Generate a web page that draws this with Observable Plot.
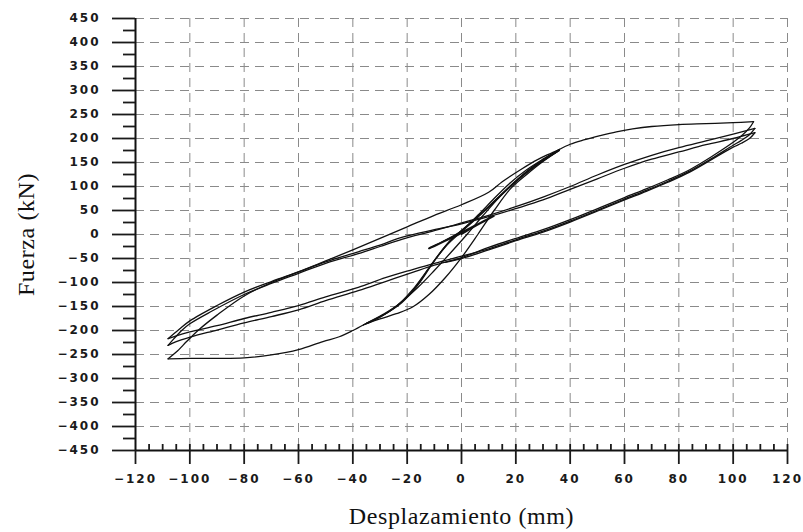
<!DOCTYPE html>
<html><head><meta charset="utf-8">
<script src="https://cdn.jsdelivr.net/npm/d3@7"></script>
<script src="https://cdn.jsdelivr.net/npm/@observablehq/plot@0.6"></script>
<style>
body{margin:0;background:#fff;}
svg [aria-label$="tick label"] text{letter-spacing:2px;}
svg g[aria-label="text"] text{letter-spacing:0.6px;}
</style></head><body><div id="chart"></div>
<script>
// Axis ticks
const xTicks = [-120,-100,-80,-60,-40,-20,0,20,40,60,80,100,120];
const yTicks = [-450,-400,-350,-300,-250,-200,-150,-100,-50,0,50,100,150,200,250,300,350,400,450];
const xGrid = [-100,-80,-60,-40,-20,0,20,40,60,80,100,120];
const yGrid = [-400,-350,-300,-250,-200,-150,-100,-50,0,50,100,150,200,250,300,350,400,450];
const xMinor = d3.range(-115, 121, 5);
const yMinor = d3.range(-425, 450, 50);

// Hysteresis branches [displacement mm, force kN]
const smallCycles = [[0,0],[6,20],[12,40],[6,22],[0,5],[-6,-12],[-12,-30],[-6,-14],[0,2],[6,20],[12,38],[6,20],[0,2],[-6,-14],[-12,-28],[-5,-10],[0,4],[6,22],[12,40],[5,18],[0,3],[-6,-13],[-12,-29]];
const load36 = [[-12,-29],[-6,-12],[0,8],[6,40],[12,75],[18,108],[24,135],[30,157],[36,177]];
const unload36a = [[36,177],[32,163],[26,140],[20,112],[14,80],[8,48],[2,18],[-4,-12],[-10,-55],[-16,-105],[-22,-142],[-28,-165],[-36,-188]];
const reload36a = [[-36,-188],[-30,-176],[-24,-165],[-18,-151],[-12,-125],[-6,-90],[0,-48],[6,0],[12,50],[18,95],[24,125],[30,152],[36,175]];
const unload36b = [[36,175],[31,158],[25,135],[19,106],[13,74],[7,42],[1,12],[-5,-18],[-11,-62],[-17,-110],[-23,-145],[-29,-167],[-35,-185]];
const reload36b = [[-35,-185],[-28,-165],[-22,-140],[-16,-110],[-10,-75],[-4,-38],[2,0],[8,40],[14,78],[20,110],[26,137],[31,157],[35,172]];
const unload36c = [[35,172],[30,155],[24,130],[18,100],[12,68],[6,36],[0,6],[-6,-26],[-12,-70],[-18,-115],[-24,-150],[-30,-172],[-36,-188]];
const envNeg = [[-36,-188],[-40,-200],[-45,-213],[-51,-223],[-60,-240],[-70,-251],[-80,-257],[-90,-258],[-100,-258],[-108,-259]];
const reloadB1 = [[-108,-259],[-105,-245],[-101,-222],[-97,-200],[-90,-168],[-80,-128],[-70,-100],[-60,-78],[-50,-55],[-40,-32],[-30,-8],[-20,16],[-10,40],[0,62],[10,88],[15,110],[22,136],[28,156],[32,167],[36,177]];
const envPos = [[36,177],[40,188],[45,197],[51,206],[57,214],[63,220],[70,225],[80,229],[90,231],[100,233],[107.5,235]];
const unloadB1 = [[107.5,235],[106,222],[103,205],[100,192],[92,162],[84,135],[76,114],[68,95],[60,77],[51,56],[40,31],[30,10],[20,-8],[10,-27],[0,-48],[-10,-64],[-18,-79],[-28,-98],[-38,-117],[-50,-138],[-60,-157],[-70,-171],[-80,-184],[-90,-199],[-100,-214],[-105,-223],[-108,-231]];
const reloadB2 = [[-108,-231],[-106,-218],[-103,-200],[-100,-186],[-92,-160],[-80,-125],[-70,-102],[-60,-81],[-50,-60],[-38,-40],[-30,-25],[-22,-10],[-10,8],[0,24],[10,40],[20,58],[30,78],[40,100],[50,124],[60,146],[70,165],[80,181],[90,195],[100,209],[108,221]];
const unloadB2 = [[108,221],[106,208],[103,196],[100,186],[92,158],[84,132],[76,111],[68,92],[60,74],[51,53],[40,28],[30,7],[20,-11],[10,-30],[0,-45],[-10,-60],[-18,-73],[-28,-90],[-38,-110],[-50,-130],[-60,-148],[-70,-162],[-80,-175],[-90,-190],[-100,-203],[-105,-211],[-108,-217]];
const reloadB3 = [[-108,-217],[-104,-198],[-100,-180],[-90,-148],[-80,-120],[-70,-98],[-60,-78],[-50,-57],[-38,-36],[-30,-22],[-22,-6],[-10,10],[0,22],[10,37],[20,54],[30,72],[40,94],[50,116],[60,138],[70,157],[80,172],[90,187],[100,200],[108,212]];
const unloadB3 = [[108,212],[106,200],[103,190],[100,182],[92,156],[84,130],[76,109],[68,90],[60,72],[51,51],[40,26],[30,5],[20,-13],[10,-32],[0,-50],[-6,-58]];

const branches = [
  ["s", smallCycles], ["l36", load36], ["u36a", unload36a], ["r36a", reload36a],
  ["u36b", unload36b], ["r36b", reload36b], ["u36c", unload36c], ["envN", envNeg],
  ["rB1", reloadB1], ["envP", envPos], ["uB1", unloadB1], ["rB2", reloadB2],
  ["uB2", unloadB2], ["rB3", reloadB3], ["uB3", unloadB3]
];
const data = branches.flatMap(([name, pts]) => pts.map(([x, y]) => ({branch: name, x, y})));

const tickFont = {fontSize: 12, fontWeight: "bold", fontFamily: "DejaVu Sans", color: "#1a1a1a", strokeWidth: 1.8, label: null};
const gridStyle = {stroke: "#8a8a8a", strokeOpacity: 1, strokeWidth: 1, strokeDasharray: "9,6"};

const chart = Plot.plot({
  width: 803, height: 532,
  marginLeft: 135, marginRight: 16, marginTop: 18, marginBottom: 82,
  x: {domain: [-120, 120]},
  y: {domain: [-450, 450]},
  style: {background: "white", overflow: "visible"},
  marks: [
    Plot.gridX(xGrid, gridStyle),
    Plot.gridY(yGrid, gridStyle),
    Plot.line(data, {x: "x", y: "y", z: "branch", curve: "catmull-rom", stroke: "#111", strokeWidth: 1.3}),
    Plot.ruleX([-120], {stroke: "#111", strokeWidth: 2}),
    Plot.ruleY([-450], {stroke: "#111", strokeWidth: 2}),
    Plot.axisY(yTicks, {...tickFont, tickSize: 23, tickPadding: 12}),
    Plot.axisY(yMinor, {...tickFont, tickSize: 12, text: null}),
    Plot.axisX(xTicks, {...tickFont, tickSize: 14, tickPadding: 10}),
    Plot.axisX(xMinor, {...tickFont, tickSize: 6, dy: -6, text: null}),
    Plot.text(["Fuerza (kN)"], {frameAnchor: "left", dx: -109, rotate: -90, textAnchor: "middle", lineAnchor: "middle", fontSize: 24, fontFamily: "Liberation Serif", fill: "#111"}),
    Plot.text(["Desplazamiento (mm)"], {frameAnchor: "bottom", dy: 66, textAnchor: "middle", lineAnchor: "middle", fontSize: 24, fontFamily: "Liberation Serif", fill: "#111"})
  ]
});
document.getElementById("chart").appendChild(chart);
</script></body></html>
